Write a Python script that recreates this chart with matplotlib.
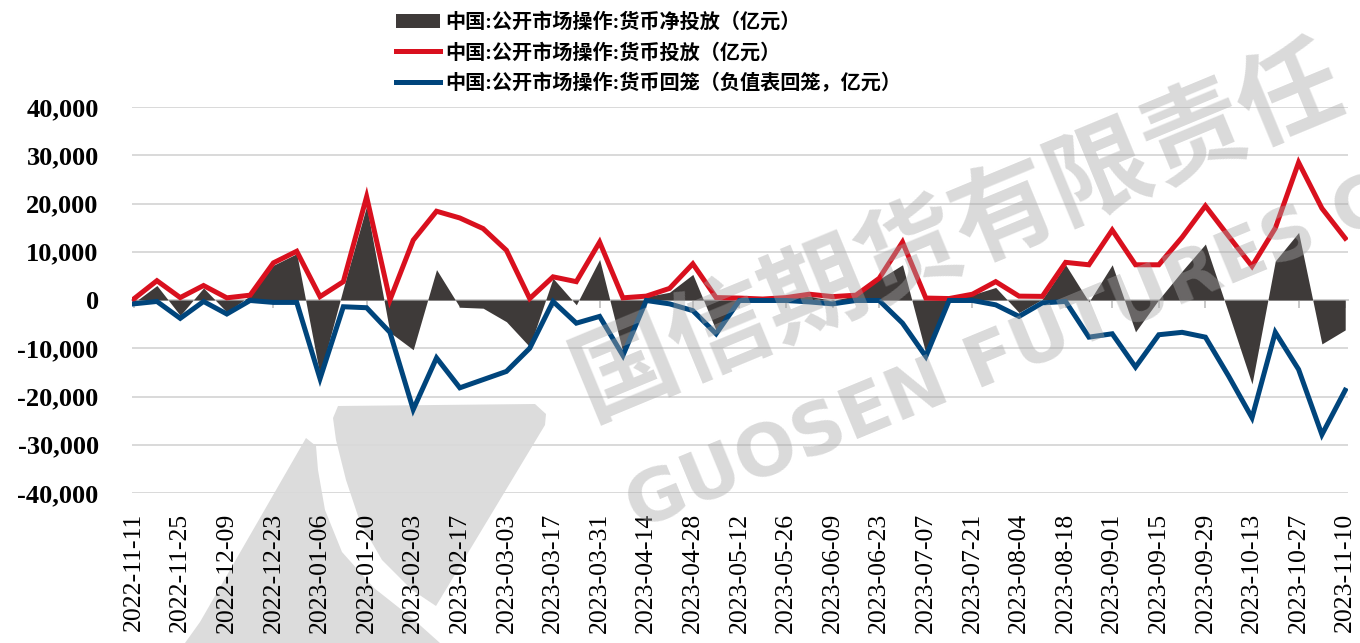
import matplotlib
matplotlib.use("Agg")
import matplotlib.pyplot as plt
from matplotlib.patches import Polygon
from matplotlib.ticker import FuncFormatter
import numpy as np

# ---------------- data ----------------
dates = [
    "2022-11-11", "2022-11-18", "2022-11-25", "2022-12-02", "2022-12-09", "2022-12-16",
    "2022-12-23", "2022-12-30", "2023-01-06", "2023-01-13", "2023-01-20", "2023-01-27",
    "2023-02-03", "2023-02-10", "2023-02-17", "2023-02-24", "2023-03-03", "2023-03-10",
    "2023-03-17", "2023-03-24", "2023-03-31", "2023-04-07", "2023-04-14", "2023-04-21",
    "2023-04-28", "2023-05-05", "2023-05-12", "2023-05-19", "2023-05-26", "2023-06-02",
    "2023-06-09", "2023-06-16", "2023-06-23", "2023-06-30", "2023-07-07", "2023-07-14",
    "2023-07-21", "2023-07-28", "2023-08-04", "2023-08-11", "2023-08-18", "2023-08-25",
    "2023-09-01", "2023-09-08", "2023-09-15", "2023-09-22", "2023-09-29", "2023-10-06",
    "2023-10-13", "2023-10-20", "2023-10-27", "2023-11-03", "2023-11-10",
]

net_injection = [
    -600, 3000, -3200, 2500, -2500, 900, 7200, 9600, -15600, 2400, 19500, -6700,
    -10300, 6300, -1500, -1700, -4500, -9700, 4500, -1000, 8400, -10800, 700, 1600,
    5300, -6300, 300, 100, 400, 800, -100, 900, 4300, 7300, -11000, 200,
    1100, 2600, -2600, 150, 7300, -400, 7300, -6600, 100, 6000, 11600, -2800,
    -17400, 8100, 14000, -9100, -6200,
]

injection = [
    200, 4000, 500, 3000, 450, 1000, 7700, 10100, 700, 3800, 21400, 0,
    12400, 18400, 17000, 14800, 10300, 300, 4800, 3800, 12000, 450, 800, 2400,
    7500, 500, 400, 200, 500, 1200, 700, 1000, 4500, 12000, 400, 300,
    1200, 3800, 800, 750, 7800, 7300, 14500, 7300, 7300, 13000, 19500, 13200,
    7000, 14900, 28500, 19000, 12800,
]

withdrawal = [
    -800, -300, -3800, -300, -2900, -100, -500, -500, -16300, -1400, -1600, -6700,
    -22700, -12000, -18200, -16500, -14800, -10000, -300, -4800, -3400, -11500, -100, -800,
    -2200, -7000, -100, -100, -100, -400, -800, -100, -100, -4800, -11700, -100,
    -100, -1000, -3400, -600, -300, -7700, -7000, -13900, -7200, -6700, -7700, -15800,
    -24400, -6700, -14400, -27900, -18700,
]

series_labels = [
    "中国:公开市场操作:货币净投放（亿元）",
    "中国:公开市场操作:货币投放（亿元）",
    "中国:公开市场操作:货币回笼（负值表回笼，亿元）",
]

y_ticks = [-40000, -30000, -20000, -10000, 0, 10000, 20000, 30000, 40000]

# ---------------- style ----------------
AREA_C = "#3e3a39"
RED_C = "#d9101e"
BLUE_C = "#00457c"
GRID_C = "#d9d9d9"
FONT_MIX = ["Liberation Serif", "Noto Sans CJK SC", "DejaVu Sans"]

W, H = 1360, 643
fig = plt.figure(figsize=(W / 100, H / 100), dpi=100)
fig.patch.set_facecolor("white")


def px(x, y):
    return (x / W, 1 - y / H)


# logo watermark (background)
logo_c = "#dcdcdc"
left_piece = [px(*p) for p in [(306, 438), (316, 446), (318, 470), (325, 510), (342, 552),
                                (374, 588), (412, 618), (440, 643), (185, 643), (200, 622)]]
right_piece = [px(*p) for p in [(338, 406), (535, 404), (546, 414), (545, 425), (436, 606),
                                 (412, 590), (382, 560), (360, 522), (346, 480), (336, 440),
                                 (333, 418)]]
for poly in (left_piece, right_piece):
    fig.patches.append(Polygon(poly, closed=True, transform=fig.transFigure,
                               facecolor=logo_c, edgecolor="none", zorder=-5))

ax = fig.add_axes([132 / W, 1 - 493 / H, (1348 - 132) / W, (493 - 107) / H])
ax.patch.set_alpha(0)

x = np.arange(len(dates))

ax.fill_between(x, net_injection, 0, color=AREA_C, linewidth=0, zorder=2,
                label=series_labels[0])
ax.plot(x, injection, color=RED_C, linewidth=3.6, zorder=3, label=series_labels[1],
        solid_joinstyle="miter")
ax.plot(x, withdrawal, color=BLUE_C, linewidth=3.6, zorder=4, label=series_labels[2],
        solid_joinstyle="miter")

ax.set_xlim(-0.07, len(dates) - 1 + 0.12)
ax.set_ylim(-40000, 40000)

ax.set_yticks(y_ticks)
ax.yaxis.set_major_formatter(FuncFormatter(lambda v, p: f"{int(v):,}"))
ax.grid(axis="y", color=GRID_C, linewidth=1.4, zorder=0)
ax.set_axisbelow(True)

tick_idx = list(range(0, len(dates), 2))
ax.set_xticks(tick_idx)
ax.set_xticklabels([dates[i] for i in tick_idx], rotation=90, fontfamily="Liberation Serif",
                   fontsize=18.5, va="top", ha="center")
ax.tick_params(axis="x", length=0, pad=14)
ax.tick_params(axis="y", length=0, pad=24)
for lab in ax.get_yticklabels():
    lab.set_fontfamily("Liberation Serif")
    lab.set_fontweight("bold")
    lab.set_fontsize(19)

for s in ax.spines.values():
    s.set_visible(False)

# axis line with small tick marks at zero
sec = ax.secondary_xaxis(0.5)
sec.set_alignment("bottom")
sec.set_xticks(tick_idx)
sec.set_xticklabels([""] * len(tick_idx))
sec.tick_params(axis="x", direction="out", length=6, width=1.2, color="#bfbfbf")
sec.spines["bottom"].set_color("#d0d0d0")
sec.spines["bottom"].set_linewidth(1.4)
sec.set_zorder(1)

# legend
leg = ax.legend(loc="upper left", bbox_to_anchor=(392 / W, 1 - 9 / H),
                bbox_transform=fig.transFigure, frameon=False,
                prop={"family": FONT_MIX, "size": 14.5, "weight": "bold"},
                handlelength=2.2, handletextpad=0.25, labelspacing=0.52,
                borderpad=0.2, borderaxespad=0)

# text watermarks (on top, translucent)
wm_c = "#a6a6a6"
fig.text(*px(578, 390), "国信期货有限责任", rotation=22.5, rotation_mode="anchor",
         ha="left", va="center", fontsize=74, fontweight="bold",
         family=["Noto Sans CJK SC", "DejaVu Sans"], color=wm_c, alpha=0.42, zorder=10)
fig.text(*px(630, 512), "GUOSEN FUTURES C", rotation=22.5, rotation_mode="anchor",
         ha="left", va="center", fontsize=52, fontweight="bold",
         family=["DejaVu Sans"], color=wm_c, alpha=0.42, zorder=10)

fig.savefig("out.png", dpi=100)
